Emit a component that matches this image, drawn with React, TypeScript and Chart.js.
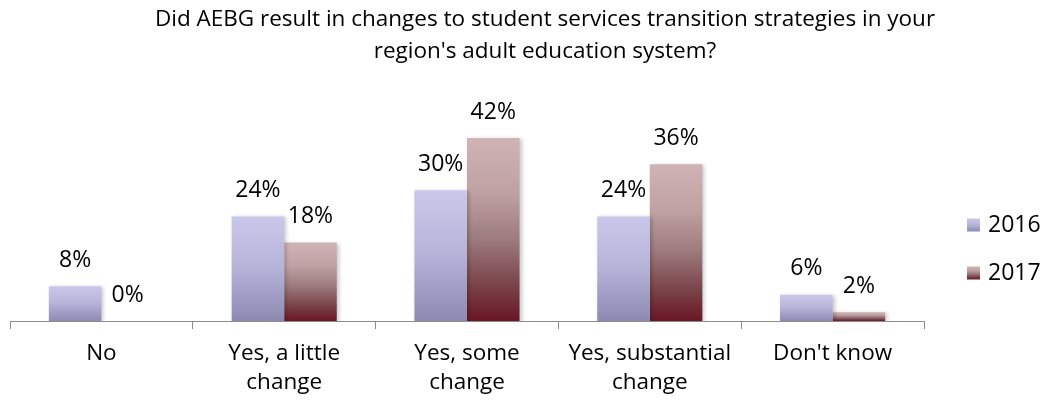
import React, { useEffect, useRef } from "react";
import { Chart, registerables } from "chart.js";

Chart.register(...registerables);

const titleLines = [
  "Did AEBG result in changes to student services transition strategies in your",
  "region's adult education system?",
];
const categories: (string | string[])[] = [
  "No",
  ["Yes, a little", "change"],
  ["Yes, some", "change"],
  ["Yes, substantial", "change"],
  "Don't know",
];
const seriesNames = ["2016", "2017"];
const values2016 = [8, 24, 30, 24, 6];
const values2017 = [0, 18, 42, 36, 2];

const gradStops: [number, string][][] = [
  [
    [0, "#cac8ea"],
    [0.5, "#b6b3d9"],
    [1, "#8c89b3"],
  ],
  [
    [0, "#d0b3b5"],
    [0.3, "#bfa1a3"],
    [0.55, "#9d7b7e"],
    [0.8, "#7a444a"],
    [1, "#6a1626"],
  ],
];

const FONT = "'Open Sans', sans-serif";

function makeGradient(ctx: CanvasRenderingContext2D, di: number, top: number, bottom: number) {
  const g = ctx.createLinearGradient(0, top, 0, bottom);
  gradStops[di].forEach(([o, c]) => g.addColorStop(o, c));
  return g;
}

function barGradient(c: any, di: number) {
  const fallback = gradStops[di][0][1];
  if (c.type !== "data") return fallback;
  const chart = c.chart;
  const y = chart.scales && chart.scales.y;
  if (!y || !chart.chartArea) return fallback;
  const v = c.parsed && typeof c.parsed.y === "number" ? c.parsed.y : c.raw;
  const top = y.getPixelForValue(v);
  const bottom = y.getPixelForValue(0);
  if (!isFinite(top) || !isFinite(bottom) || Math.abs(bottom - top) < 0.5) return fallback;
  return makeGradient(chart.ctx, di, top, bottom);
}

const decorPlugin = {
  id: "decor",
  beforeDatasetsDraw(chart: any) {
    const ctx = chart.ctx;
    ctx.save();
    ctx.shadowColor = "rgba(0,0,0,0.22)";
    ctx.shadowBlur = 4;
    ctx.shadowOffsetX = 2;
    ctx.shadowOffsetY = 1;
  },
  afterDatasetsDraw(chart: any) {
    const ctx = chart.ctx;
    ctx.restore();
    ctx.save();
    ctx.fillStyle = "#000";
    ctx.font = `23px ${FONT}`;
    ctx.textAlign = "center";
    ctx.textBaseline = "middle";
    chart.data.datasets.forEach((ds: any, di: number) => {
      const meta = chart.getDatasetMeta(di);
      meta.data.forEach((el: any, i: number) => {
        ctx.fillText(`${ds.data[i]}%`, el.x, el.y - 26);
      });
    });
    ctx.restore();
  },
  afterDraw(chart: any) {
    const ctx = chart.ctx;
    ctx.save();
    // title
    ctx.fillStyle = "#000";
    ctx.font = `22.5px ${FONT}`;
    ctx.textAlign = "center";
    ctx.textBaseline = "middle";
    titleLines.forEach((t, i) => ctx.fillText(t, 545, 20 + i * 32));
    // legend
    ctx.font = `23px ${FONT}`;
    ctx.textAlign = "left";
    seriesNames.forEach((name, i) => {
      const cy = 225 + i * 48;
      ctx.fillStyle = makeGradient(ctx, i, cy - 6.5, cy + 6.5);
      ctx.fillRect(967, cy - 6.5, 13, 13);
      ctx.fillStyle = "#000";
      ctx.fillText(name, 988, cy);
    });
    ctx.restore();
  },
};

export default function App() {
  const ref = useRef<HTMLCanvasElement>(null);
  useEffect(() => {
    if (!ref.current) return;
    const chart = new Chart(ref.current, {
      type: "bar",
      data: {
        labels: categories,
        datasets: [
          {
            label: seriesNames[0],
            data: values2016,
            backgroundColor: (c: any) => barGradient(c, 0),
            borderWidth: 0,
          },
          {
            label: seriesNames[1],
            data: values2017,
            backgroundColor: (c: any) => barGradient(c, 1),
            borderWidth: 0,
          },
        ],
      },
      options: {
        animation: false,
        responsive: true,
        maintainAspectRatio: false,
        layout: { padding: { left: 10, right: 122, top: 125, bottom: 0 } },
        datasets: { bar: { barPercentage: 1, categoryPercentage: 0.575 } },
        plugins: {
          legend: { display: false },
          title: { display: false },
          tooltip: { enabled: false },
        },
        scales: {
          x: {
            grid: {
              offset: true,
              drawOnChartArea: false,
              drawTicks: true,
              tickLength: 8,
              color: "#8c8c8c",
            },
            border: { display: true, color: "#8c8c8c", width: 1 },
            ticks: {
              color: "#000",
              padding: 10,
              maxRotation: 0,
              autoSkip: false,
              font: { family: FONT, size: 22.5, lineHeight: "29px" as any },
            },
            afterFit: (scale: any) => {
              scale.height = 79;
            },
          },
          y: {
            display: false,
            min: 0,
            max: 45,
          },
        },
      },
      plugins: [decorPlugin],
    });
    return () => chart.destroy();
  }, []);
  return (
    <div style={{ position: "fixed", left: 0, top: 0, width: 1046, height: 400, background: "#fff" }}>
      <canvas ref={ref} />
    </div>
  );
}
